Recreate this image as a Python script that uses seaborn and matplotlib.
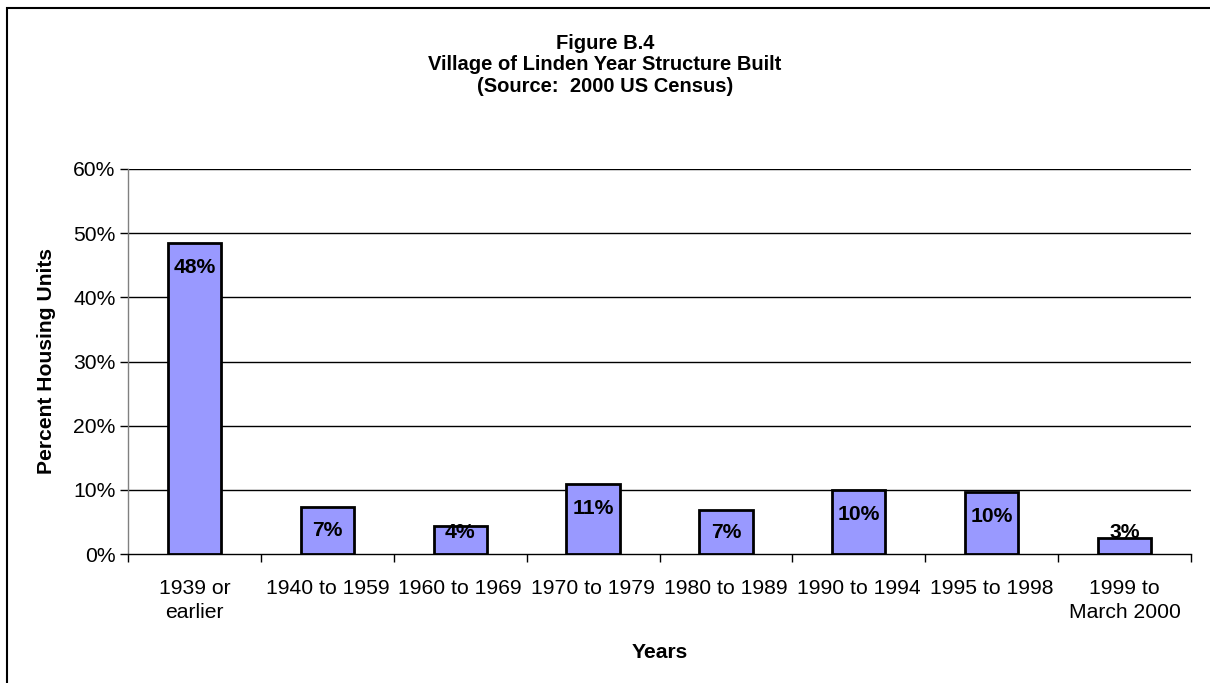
import matplotlib
matplotlib.use("Agg")
import matplotlib.pyplot as plt
import seaborn as sns
import pandas as pd
import numpy as np
from matplotlib.patches import Rectangle

categories = ["1939 or\nearlier", "1940 to 1959", "1960 to 1969", "1970 to 1979",
              "1980 to 1989", "1990 to 1994", "1995 to 1998", "1999 to\nMarch 2000"]
values = [48.4, 7.4, 4.3, 10.9, 6.9, 10.0, 9.6, 2.5]
value_labels = ["48%", "7%", "4%", "11%", "7%", "10%", "10%", "3%"]
y_ticks = [0, 10, 20, 30, 40, 50, 60]
title_text = "Figure B.4\nVillage of Linden Year Structure Built\n(Source:  2000 US Census)"

sns.set_theme(style="white")
plt.rcParams['font.family'] = ['Liberation Sans', 'DejaVu Sans']
plt.rcParams['text.color'] = 'black'
plt.rcParams['axes.labelcolor'] = 'black'
plt.rcParams['xtick.color'] = 'black'
plt.rcParams['ytick.color'] = 'black'

FS = 15.2

df = pd.DataFrame({"cat": categories, "val": values})

fig = plt.figure(figsize=(12.1, 6.83), dpi=100)
ax = fig.add_axes([128/1210, 1-554/683, (1191-128)/1210, (554-169)/683])

sns.barplot(data=df, x="cat", y="val", ax=ax, color="#9999FF", saturation=1,
            width=0.40, edgecolor="black", linewidth=2, zorder=3)

ax.set_ylim(0, 60)
ax.set_xlim(-0.5, len(categories)-0.5)
ax.set_yticks(y_ticks)
ax.set_yticklabels([f"{t}%" for t in y_ticks], fontsize=FS)
for t in y_ticks[1:]:
    ax.axhline(t, color="black", linewidth=1, zorder=1)

ax.set_xticks(range(len(categories)))
ax.set_xticklabels(categories, fontsize=FS, linespacing=1.35)
ax.set_xticks(np.arange(-0.5, len(categories)), minor=True)
ax.tick_params(axis="x", which="major", length=0, pad=18)
ax.tick_params(axis="x", which="minor", length=6, width=1, color="black", direction="out", bottom=True)
ax.tick_params(axis="y", length=6, width=1, color="black", direction="out", left=True, pad=3)

for s in ["top", "right"]:
    ax.spines[s].set_visible(False)
ax.spines["left"].set_color("#808080")
ax.spines["bottom"].set_color("black")
for s in ["left", "bottom"]:
    ax.spines[s].set_linewidth(1)

for i, (v, lab) in enumerate(zip(values, value_labels)):
    ax.text(i, max(v - 3.8, 3.4), lab, ha="center", va="center",
            fontsize=FS, fontweight="bold", zorder=5)

ax.set_xlabel("Years", fontsize=FS, fontweight="bold", labelpad=15)
ax.set_ylabel("Percent Housing Units", fontsize=FS, fontweight="bold", labelpad=12)

fig.text(0.5, 1-65/683, title_text, ha="center", va="center", fontsize=14.5,
         fontweight="bold", linespacing=1.15)

fig.patches.append(Rectangle((7/1210, -0.1), 1.2, (683-8)/683 + 0.1,
                             transform=fig.transFigure, fill=False,
                             edgecolor="black", linewidth=1.5))

fig.savefig("out.png", dpi=100)
